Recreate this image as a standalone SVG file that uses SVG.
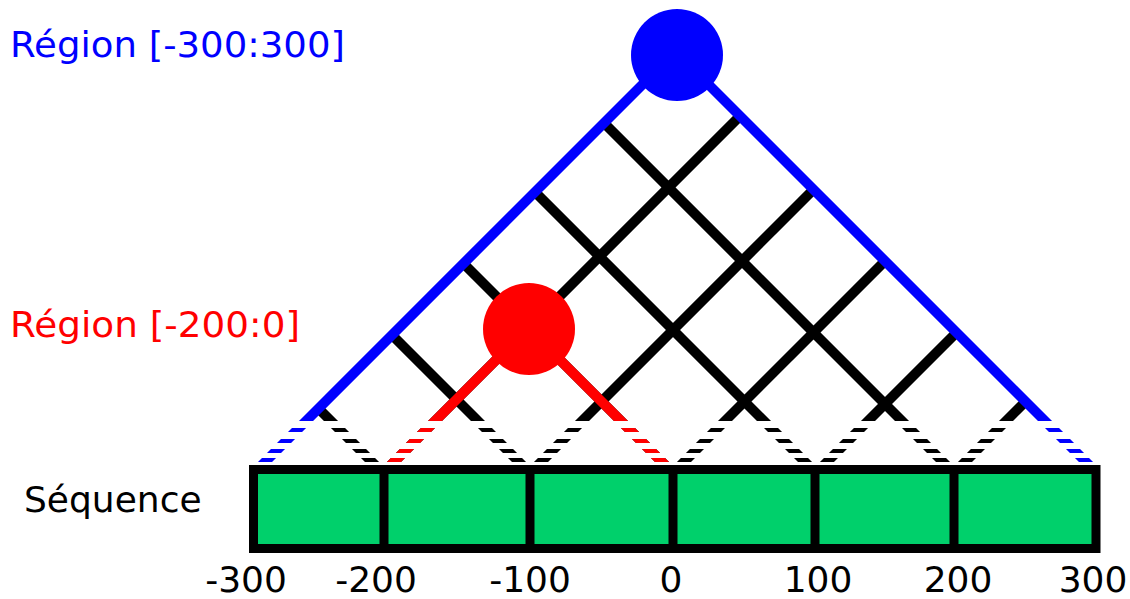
<svg xmlns="http://www.w3.org/2000/svg" width="1130" height="599" viewBox="0 0 1130 599">
<style>
text{font-family:"DejaVu Sans","Liberation Sans",sans-serif;font-size:36px}
.ln{fill:none;stroke-width:10;stroke-linecap:butt;stroke-linejoin:miter}
.k{stroke:#000}
.r{stroke:#ff0000}
.b{stroke:#0000ff}
.tick{text-anchor:middle;fill:#000}
</style>
<defs>
<mask id="dash" maskUnits="userSpaceOnUse" x="0" y="0" width="1130" height="599">
<rect x="0" y="0" width="1130" height="599" fill="#fff"/>
<rect x="0" y="421" width="1130" height="7" fill="#000"/>
<rect x="0" y="432" width="1130" height="7" fill="#000"/>
<rect x="0" y="443" width="1130" height="6" fill="#000"/>
<rect x="0" y="453" width="1130" height="5" fill="#000"/>
<rect x="0" y="462" width="1130" height="137" fill="#000"/>
</mask>
</defs>
<rect width="1130" height="599" fill="#fff"/>
<g id="connectors" mask="url(#dash)">
<path class="ln k" d="M318.5,408.5 L383,473 L740,116"/>
<path class="ln k" d="M392,335 L530,473 L813.5,189.5"/>
<path class="ln k" d="M463.5,263.5 L673,473 L885,261"/>
<path class="ln k" d="M535,192 L816,473 L956.5,332.5"/>
<path class="ln k" d="M604,123 L954,473 L1025.5,401.5"/>
<path class="ln r" d="M383,473 L528,328 L673,473"/>
<path class="ln b" d="M254,473 L675.5,51.5 L1097,473"/>
</g>
<g id="node-sequence">
<rect x="253.5" y="469.5" width="842.5" height="79" fill="#00d06b" stroke="#000" stroke-width="9"/>
<path d="M384,469.5V548.5M530,469.5V548.5M673,469.5V548.5M815,469.5V548.5M954,469.5V548.5" stroke="#000" stroke-width="9"/>
</g>
<g id="node-region-300">
<circle cx="677" cy="55" r="46" fill="#0000ff"/>
</g>
<g id="node-region-200">
<circle cx="529" cy="329" r="46" fill="#ff0000"/>
</g>
<g id="labels">
<text x="10" y="57" fill="#0000ff" textLength="335" lengthAdjust="spacingAndGlyphs">Région [-300:300]</text>
<text x="10" y="337" fill="#ff0000" textLength="290" lengthAdjust="spacingAndGlyphs">Région [-200:0]</text>
<text x="24" y="512" fill="#000">Séquence</text>
<text class="tick" x="246" y="592">-300</text>
<text class="tick" x="376" y="592">-200</text>
<text class="tick" x="530" y="592">-100</text>
<text class="tick" x="671" y="592">0</text>
<text class="tick" x="818" y="592">100</text>
<text class="tick" x="958" y="592">200</text>
<text class="tick" x="1093" y="592">300</text>
</g>
</svg>
